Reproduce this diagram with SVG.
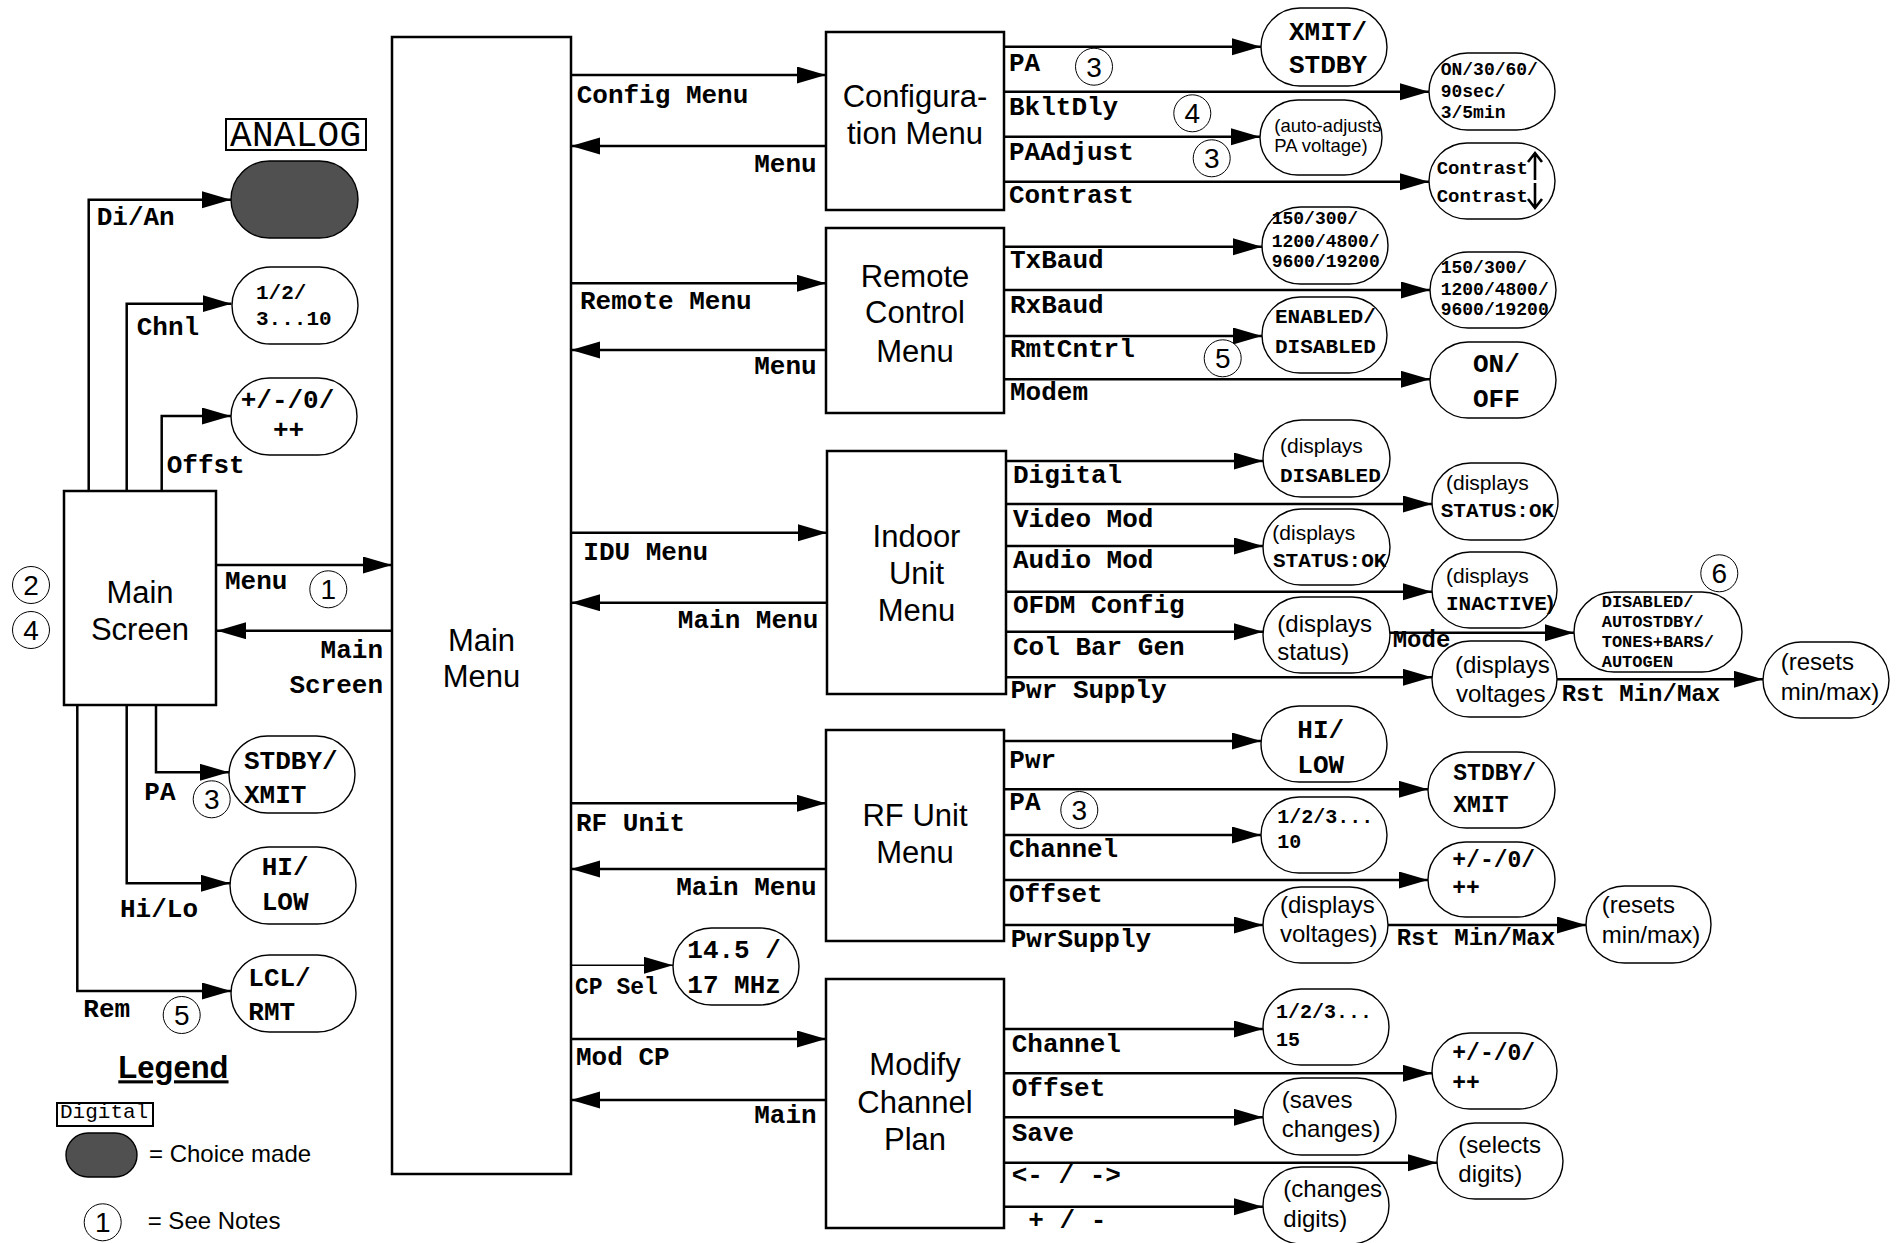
<svg xmlns="http://www.w3.org/2000/svg" width="1900" height="1243" viewBox="0 0 1900 1243">
<style>
  .box{fill:#fff;stroke:#000;stroke-width:2.5}
  .pill{fill:#fff;stroke:#000;stroke-width:1.4}
  .done{fill:#505050;stroke:#000;stroke-width:1.4}
  .note{fill:#fff;stroke:#000;stroke-width:1}
  .wire{fill:none;stroke:#000;stroke-width:2.5;marker-end:url(#ah)}
  .thin{fill:none;stroke:#000;stroke-width:1.5;marker-end:url(#ah)}
  .title{font-family:"Liberation Sans",Arial,sans-serif;font-size:31px;text-anchor:middle}
  .lb{font-family:"Liberation Mono","Courier New",monospace;font-weight:bold;font-size:26px}
  .r{text-anchor:end}
  .m26{font-family:"Liberation Mono","Courier New",monospace;font-weight:bold;font-size:26px}
  .m24{font-family:"Liberation Mono","Courier New",monospace;font-weight:bold;font-size:24px}
  .m23{font-family:"Liberation Mono","Courier New",monospace;font-weight:bold;font-size:23px}
  .m21{font-family:"Liberation Mono","Courier New",monospace;font-weight:bold;font-size:21px}
  .m20{font-family:"Liberation Mono","Courier New",monospace;font-weight:bold;font-size:20px}
  .m19{font-family:"Liberation Mono","Courier New",monospace;font-weight:bold;font-size:19px}
  .m18{font-family:"Liberation Mono","Courier New",monospace;font-weight:bold;font-size:18px}
  .m17{font-family:"Liberation Mono","Courier New",monospace;font-weight:bold;font-size:17px}
  .s24{font-family:"Liberation Sans",Arial,sans-serif;font-size:24px}
  .s21{font-family:"Liberation Sans",Arial,sans-serif;font-size:21px}
  .s18{font-family:"Liberation Sans",Arial,sans-serif;font-size:18.5px}
  .num{font-family:"Liberation Sans",Arial,sans-serif;font-size:28px;text-anchor:middle}
  .tag{font-family:"Liberation Mono","Courier New",monospace}
</style>
<defs>
  <marker id="ah" markerUnits="userSpaceOnUse" markerWidth="30" markerHeight="18" refX="29" refY="8.5" orient="auto">
    <path d="M0,0 L29,8.5 L0,17 z" fill="#000"/>
  </marker>
  <symbol id="n" overflow="visible"><circle r="18.5" class="note"/></symbol>
</defs>
<rect width="1900" height="1243" fill="#fff"/>

<!-- connectors -->
<g id="connectors">
  <!-- main screen -->
  <path class="wire" d="M88.7,491 V199.7 H231"/>
  <path class="wire" d="M126.7,491 V303.7 H231.5"/>
  <path class="wire" d="M161.7,491 V416 H231"/>
  <path class="wire" d="M216,565 H392"/>
  <path class="wire" d="M392,630.7 H217"/>
  <path class="wire" d="M156,705 V772.3 H229"/>
  <path class="wire" d="M126.7,705 V883.3 H230"/>
  <path class="wire" d="M77.3,705 V991 H231"/>
  <!-- main menu -->
  <path class="wire" d="M571,75 H826"/>
  <path class="wire" d="M826,146 H571"/>
  <path class="wire" d="M571,283.3 H826"/>
  <path class="wire" d="M828,350 H571"/>
  <path class="wire" d="M571,532.7 H827"/>
  <path class="wire" d="M827,602.7 H571"/>
  <path class="wire" d="M571,803.3 H826"/>
  <path class="wire" d="M826,869 H571"/>
  <path class="thin" d="M571,965.3 H673"/>
  <path class="wire" d="M568,1039 H826"/>
  <path class="wire" d="M826,1100 H571"/>
  <!-- configuration -->
  <path class="wire" d="M1004,46.7 H1261"/>
  <path class="wire" d="M1004,91.7 H1429"/>
  <path class="wire" d="M1004,136.7 H1260"/>
  <path class="wire" d="M1004,181.7 H1429"/>
  <!-- remote control -->
  <path class="wire" d="M1004,246.7 H1262"/>
  <path class="wire" d="M1004,290 H1430"/>
  <path class="wire" d="M1004,336 H1262"/>
  <path class="wire" d="M1004,379.3 H1430"/>
  <!-- indoor unit -->
  <path class="wire" d="M1006,461 H1263"/>
  <path class="wire" d="M1006,504 H1432"/>
  <path class="wire" d="M1006,546 H1263"/>
  <path class="wire" d="M1006,591.7 H1432"/>
  <path class="wire" d="M1006,631.7 H1263"/>
  <path class="wire" d="M1006,677.3 H1432"/>
  <path class="wire" d="M1390,632.7 H1574"/>
  <path class="wire" d="M1557,679.3 H1763"/>
  <!-- rf unit -->
  <path class="wire" d="M1004,741 H1261"/>
  <path class="wire" d="M1004,789.3 H1428"/>
  <path class="wire" d="M1004,835 H1261"/>
  <path class="wire" d="M1004,880 H1428"/>
  <path class="wire" d="M1004,925 H1263"/>
  <path class="wire" d="M1388,925 H1586"/>
  <!-- modify channel plan -->
  <path class="wire" d="M1005,1029 H1263"/>
  <path class="wire" d="M1005,1073.3 H1432"/>
  <path class="wire" d="M1005,1117.3 H1263"/>
  <path class="wire" d="M1005,1162.7 H1437"/>
  <path class="wire" d="M1005,1206.7 H1263"/>
</g>

<!-- menu boxes -->
<g id="main-screen">
  <rect class="box" x="64" y="491" width="152" height="214"/>
  <text class="title" x="140" y="602.7">Main</text>
  <text class="title" x="140" y="640">Screen</text>
</g>
<g id="main-menu">
  <rect class="box" x="392" y="37" width="179" height="1137"/>
  <text class="title" x="481.5" y="651">Main</text>
  <text class="title" x="481.5" y="687">Menu</text>
</g>
<g id="config-menu">
  <rect class="box" x="826" y="32" width="178" height="178"/>
  <text class="title" x="915" y="107">Configura-</text>
  <text class="title" x="915" y="144">tion Menu</text>
</g>
<g id="remote-menu">
  <rect class="box" x="826" y="228" width="178" height="185"/>
  <text class="title" x="915" y="287">Remote</text>
  <text class="title" x="915" y="323.3">Control</text>
  <text class="title" x="915" y="361.7">Menu</text>
</g>
<g id="idu-menu">
  <rect class="box" x="827" y="451" width="179" height="243"/>
  <text class="title" x="916.5" y="546.7">Indoor</text>
  <text class="title" x="916.5" y="584">Unit</text>
  <text class="title" x="916.5" y="620.7">Menu</text>
</g>
<g id="rf-menu">
  <rect class="box" x="826" y="730" width="178" height="211"/>
  <text class="title" x="915" y="825.7">RF Unit</text>
  <text class="title" x="915" y="863.3">Menu</text>
</g>
<g id="modify-plan">
  <rect class="box" x="826" y="979" width="178" height="249"/>
  <text class="title" x="915" y="1075">Modify</text>
  <text class="title" x="915" y="1112.7">Channel</text>
  <text class="title" x="915" y="1150">Plan</text>
</g>

<!-- connector labels -->
<g id="labels">
  <text class="lb" x="96.7" y="225">Di/An</text>
  <text class="lb" x="136.7" y="335">Chnl</text>
  <text class="lb" x="166.7" y="472.7">Offst</text>
  <text class="lb" x="225" y="589.3">Menu</text>
  <text class="lb r" x="383" y="658.3">Main</text>
  <text class="lb r" x="383" y="693.3">Screen</text>
  <text class="lb" x="144.3" y="800">PA</text>
  <text class="lb" x="120" y="917.3">Hi/Lo</text>
  <text class="lb" x="83.3" y="1016.7">Rem</text>

  <text class="lb" x="576.7" y="103.3">Config Menu</text>
  <text class="lb r" x="816.7" y="171.7">Menu</text>
  <text class="lb" x="580" y="309.3">Remote Menu</text>
  <text class="lb r" x="816.7" y="374">Menu</text>
  <text class="lb" x="583.3" y="560">IDU Menu</text>
  <text class="lb r" x="818.3" y="628.3">Main Menu</text>
  <text class="lb" x="576" y="831">RF Unit</text>
  <text class="lb r" x="816.7" y="895">Main Menu</text>
  <text class="m23" x="575" y="994">CP Sel</text>
  <text class="lb" x="576" y="1065">Mod CP</text>
  <text class="lb r" x="816.7" y="1123.3">Main</text>

  <text class="lb" x="1009" y="70.7">PA</text>
  <text class="lb" x="1009" y="115">BkltDly</text>
  <text class="lb" x="1009" y="160">PAAdjust</text>
  <text class="lb" x="1009" y="203.3">Contrast</text>

  <text class="lb" x="1010" y="268.3">TxBaud</text>
  <text class="lb" x="1010" y="313.3">RxBaud</text>
  <text class="lb" x="1010" y="356.7">RmtCntrl</text>
  <text class="lb" x="1010" y="400">Modem</text>

  <text class="lb" x="1013" y="483.3">Digital</text>
  <text class="lb" x="1013" y="526.7">Video Mod</text>
  <text class="lb" x="1013" y="568.3">Audio Mod</text>
  <text class="lb" x="1013" y="612.7">OFDM Config</text>
  <text class="lb" x="1013" y="655">Col Bar Gen</text>
  <text class="lb" x="1010.5" y="698.3">Pwr Supply</text>
  <text class="m24" x="1392.7" y="646.7">Mode</text>
  <text class="m24" x="1561.7" y="700.7">Rst Min/Max</text>

  <text class="lb" x="1009.3" y="768.3">Pwr</text>
  <text class="lb" x="1009.3" y="810">PA</text>
  <text class="lb" x="1009" y="856.7">Channel</text>
  <text class="lb" x="1009" y="901.7">Offset</text>
  <text class="lb" x="1010.7" y="946.7">PwrSupply</text>
  <text class="m24" x="1396.7" y="945">Rst Min/Max</text>

  <text class="lb" x="1011.7" y="1051.7">Channel</text>
  <text class="lb" x="1011.7" y="1095.7">Offset</text>
  <text class="lb" x="1011.7" y="1140.7">Save</text>
  <text class="lb" x="1011.7" y="1183.3">&lt;- / -&gt;</text>
  <text class="lb" x="1028.3" y="1228.3">+ / -</text>
</g>

<!-- choice nodes off the main screen -->
<g id="opt-analog">
  <rect x="226" y="119" width="140" height="31" fill="#fff" stroke="#000" stroke-width="2"/>
  <text class="tag" x="230" y="146" font-size="36" textLength="131">ANALOG</text>
  <rect class="done" x="231" y="161" width="127" height="77" rx="38.5"/>
</g>
<g id="opt-chnl">
  <rect class="pill" x="232" y="267" width="126" height="77" rx="38.5"/>
  <text class="m21" x="256" y="299">1/2/</text>
  <text class="m21" x="256" y="325">3...10</text>
</g>
<g id="opt-offst">
  <rect class="pill" x="231" y="378" width="126" height="77" rx="38.5"/>
  <text class="m26" x="240.7" y="408.3">+/-/0/</text>
  <text class="m26" x="273" y="438">++</text>
</g>
<g id="opt-pa">
  <rect class="pill" x="229" y="736" width="126" height="77" rx="38.5"/>
  <text class="m26" x="244" y="769">STDBY/</text>
  <text class="m26" x="244" y="803.3">XMIT</text>
</g>
<g id="opt-hilo">
  <rect class="pill" x="230" y="847" width="126" height="77" rx="38.5"/>
  <text class="m26" x="261.7" y="875">HI/</text>
  <text class="m26" x="261.7" y="910">LOW</text>
</g>
<g id="opt-rem">
  <rect class="pill" x="231" y="955" width="125" height="77" rx="38.5"/>
  <text class="m26" x="248.3" y="986">LCL/</text>
  <text class="m26" x="248.3" y="1020">RMT</text>
</g>
<g id="opt-cpsel">
  <rect class="pill" x="673" y="928" width="126" height="77" rx="38.5"/>
  <text class="m26" x="687.3" y="958.3" font-size="25">14.5 /</text>
  <text class="m26" x="687.3" y="993.3" font-size="25">17 MHz</text>
</g>

<!-- configuration choices -->
<g id="cfg-pa">
  <rect class="pill" x="1261" y="8" width="126" height="78" rx="39"/>
  <text class="m26" x="1289" y="40">XMIT/</text>
  <text class="m26" x="1289" y="73.3">STDBY</text>
</g>
<g id="cfg-bklt">
  <rect class="pill" x="1429" y="53" width="126" height="77" rx="38.5"/>
  <text class="m18" x="1440.7" y="75">ON/30/60/</text>
  <text class="m18" x="1440.7" y="97.3">90sec/</text>
  <text class="m18" x="1440.7" y="118.3">3/5min</text>
</g>
<g id="cfg-paadj">
  <rect class="pill" x="1260" y="100" width="122" height="75" rx="37.5"/>
  <text class="s18" x="1274.3" y="131.7">(auto-adjusts</text>
  <text class="s18" x="1274.3" y="151.7">PA voltage)</text>
</g>
<g id="cfg-contrast">
  <rect class="pill" x="1429" y="143" width="126" height="76" rx="38"/>
  <text class="m19" x="1436.7" y="174">Contrast</text>
  <text class="m19" x="1436.7" y="201.7">Contrast</text>
  <path d="M1535,180 V154 M1528,162 L1535,153 L1542,162 M1535,183 V207 M1528,199 L1535,208 L1542,199" fill="none" stroke="#000" stroke-width="2.6"/>
</g>

<!-- remote control choices -->
<g id="rc-tx">
  <rect class="pill" x="1262" y="207" width="126" height="77" rx="38.5"/>
  <text class="m18" x="1271.7" y="224">150/300/</text>
  <text class="m18" x="1271.7" y="246.7">1200/4800/</text>
  <text class="m18" x="1271.7" y="266.7">9600/19200</text>
</g>
<g id="rc-rx">
  <rect class="pill" x="1430" y="252" width="126" height="76" rx="38"/>
  <text class="m18" x="1440.7" y="273.3">150/300/</text>
  <text class="m18" x="1440.7" y="295">1200/4800/</text>
  <text class="m18" x="1440.7" y="315">9600/19200</text>
</g>
<g id="rc-rmt">
  <rect class="pill" x="1262" y="297" width="125" height="76" rx="38"/>
  <text class="m21" x="1275" y="323.3">ENABLED/</text>
  <text class="m21" x="1275" y="352.7">DISABLED</text>
</g>
<g id="rc-modem">
  <rect class="pill" x="1430" y="342" width="126" height="76" rx="38"/>
  <text class="m26" x="1473" y="371.7">ON/</text>
  <text class="m26" x="1473" y="406.7">OFF</text>
</g>

<!-- indoor unit choices -->
<g id="idu-digital">
  <rect class="pill" x="1263" y="420" width="127" height="77" rx="38.5"/>
  <text class="s21" x="1280" y="453.3">(displays</text>
  <text class="m21" x="1280" y="481.7">DISABLED</text>
</g>
<g id="idu-video">
  <rect class="pill" x="1432" y="463" width="126" height="77" rx="38.5"/>
  <text class="s21" x="1446" y="490">(displays</text>
  <text class="m21" x="1440.7" y="516.7">STATUS:OK</text>
</g>
<g id="idu-audio">
  <rect class="pill" x="1263" y="509" width="127" height="76" rx="38"/>
  <text class="s21" x="1272.3" y="540">(displays</text>
  <text class="m21" x="1273" y="566.7">STATUS:OK</text>
</g>
<g id="idu-ofdm">
  <rect class="pill" x="1432" y="552" width="125" height="76" rx="38"/>
  <text class="s21" x="1446" y="583.3">(displays</text>
  <text class="m21" x="1446" y="610">INACTIVE<tspan class="s21">)</tspan></text>
</g>
<g id="idu-colbar">
  <rect class="pill" x="1263" y="597" width="127" height="76" rx="38"/>
  <text class="s24" x="1277.3" y="631.7">(displays</text>
  <text class="s24" x="1277.3" y="660">status)</text>
</g>
<g id="idu-mode">
  <rect class="pill" x="1574" y="592" width="168" height="80" rx="40"/>
  <text class="m17" x="1601.7" y="607.3">DISABLED/</text>
  <text class="m17" x="1601.7" y="627.3">AUTOSTDBY/</text>
  <text class="m17" x="1601.7" y="647.3">TONES+BARS/</text>
  <text class="m17" x="1601.7" y="667.3">AUTOGEN</text>
</g>
<g id="idu-pwr">
  <rect class="pill" x="1432" y="641" width="125" height="76" rx="38"/>
  <text class="s24" x="1455" y="673.3">(displays</text>
  <text class="s24" x="1456" y="701.7">voltages</text>
</g>
<g id="idu-reset">
  <rect class="pill" x="1763" y="642" width="126" height="76" rx="38"/>
  <text class="s24" x="1780.7" y="670">(resets</text>
  <text class="s24" x="1780.7" y="700">min/max)</text>
</g>

<!-- rf unit choices -->
<g id="rf-pwr">
  <rect class="pill" x="1261" y="706" width="126" height="76" rx="38"/>
  <text class="m26" x="1297.3" y="738.3">HI/</text>
  <text class="m26" x="1297.3" y="773.3">LOW</text>
</g>
<g id="rf-pa">
  <rect class="pill" x="1428" y="752" width="127" height="76" rx="38"/>
  <text class="m23" x="1453.3" y="780">STDBY/</text>
  <text class="m23" x="1453.3" y="811.7">XMIT</text>
</g>
<g id="rf-channel">
  <rect class="pill" x="1261" y="797" width="126" height="76" rx="38"/>
  <text class="m20" x="1277.3" y="822.7">1/2/3...</text>
  <text class="m20" x="1277.3" y="848.3">10</text>
</g>
<g id="rf-offset">
  <rect class="pill" x="1428" y="842" width="127" height="75" rx="37.5"/>
  <text class="m23" x="1452.3" y="866.7">+/-/0/</text>
  <text class="m23" x="1452.3" y="895">++</text>
</g>
<g id="rf-supply">
  <rect class="pill" x="1263" y="887" width="125" height="76" rx="38"/>
  <text class="s24" x="1280" y="913.3">(displays</text>
  <text class="s24" x="1280" y="941.7">voltages)</text>
</g>
<g id="rf-reset">
  <rect class="pill" x="1586" y="886" width="125" height="77" rx="38.5"/>
  <text class="s24" x="1601.7" y="913.3">(resets</text>
  <text class="s24" x="1601.7" y="943.3">min/max)</text>
</g>

<!-- modify channel plan choices -->
<g id="mcp-channel">
  <rect class="pill" x="1263" y="989" width="126" height="76" rx="38"/>
  <text class="m20" x="1276" y="1018.3">1/2/3...</text>
  <text class="m20" x="1276" y="1046">15</text>
</g>
<g id="mcp-offset">
  <rect class="pill" x="1432" y="1033" width="125" height="76" rx="38"/>
  <text class="m23" x="1452.3" y="1060">+/-/0/</text>
  <text class="m23" x="1452.3" y="1090">++</text>
</g>
<g id="mcp-save">
  <rect class="pill" x="1263" y="1078" width="133" height="77" rx="38.5"/>
  <text class="s24" x="1281.7" y="1108.3">(saves</text>
  <text class="s24" x="1281.7" y="1136.7">changes)</text>
</g>
<g id="mcp-select">
  <rect class="pill" x="1437" y="1123" width="126" height="76" rx="38"/>
  <text class="s24" x="1458.3" y="1153.3">(selects</text>
  <text class="s24" x="1458.3" y="1181.7">digits)</text>
</g>
<g id="mcp-change">
  <rect class="pill" x="1263" y="1167" width="126" height="77" rx="38.5"/>
  <text class="s24" x="1283.3" y="1196.7">(changes</text>
  <text class="s24" x="1283.3" y="1226.7">digits)</text>
</g>

<!-- numbered notes -->
<g id="notes">
  <use href="#n" x="31" y="585"/><text class="num" x="31" y="595">2</text>
  <use href="#n" x="31" y="630"/><text class="num" x="31" y="640">4</text>
  <use href="#n" x="328.3" y="589.3"/><text class="num" x="328.3" y="599.3">1</text>
  <use href="#n" x="211.7" y="799.3"/><text class="num" x="211.7" y="809.3">3</text>
  <use href="#n" x="181.7" y="1015"/><text class="num" x="181.7" y="1025">5</text>
  <use href="#n" x="1094" y="66.7"/><text class="num" x="1094" y="76.7">3</text>
  <use href="#n" x="1192.3" y="113.3"/><text class="num" x="1192.3" y="123.3">4</text>
  <use href="#n" x="1211.7" y="158.3"/><text class="num" x="1211.7" y="168.3">3</text>
  <use href="#n" x="1222.7" y="358.3"/><text class="num" x="1222.7" y="368.3">5</text>
  <use href="#n" x="1719.3" y="573.3"/><text class="num" x="1719.3" y="583.3">6</text>
  <use href="#n" x="1079.3" y="810"/><text class="num" x="1079.3" y="820">3</text>
</g>

<!-- legend -->
<g id="legend">
  <text x="118.3" y="1078.3" font-family="Liberation Sans, Arial, sans-serif" font-weight="bold" font-size="31" text-decoration="underline">Legend</text>
  <rect x="57" y="1103" width="96" height="23" fill="#fff" stroke="#000" stroke-width="2"/>
  <text class="tag" x="60" y="1118.3" font-size="21">Digital</text>
  <rect class="done" x="66" y="1133" width="71" height="44" rx="22"/>
  <text class="s24" x="149" y="1161.7">= Choice made</text>
  <use href="#n" x="102.7" y="1222.3"/><text class="num" x="102.7" y="1232.3">1</text>
  <text class="s24" x="147.7" y="1229">= See Notes</text>
</g>
</svg>
